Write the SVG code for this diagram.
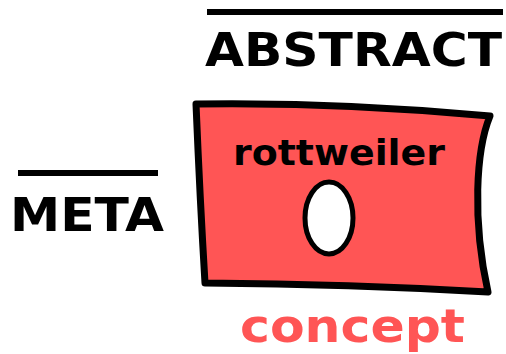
<svg xmlns="http://www.w3.org/2000/svg" width="506" height="354" viewBox="0 0 506 354">
<style>
.lbl{font-family:"DejaVu Sans","Liberation Sans",sans-serif;font-weight:bold;fill:#000}
.bar{fill:#000}
</style>
<rect width="506" height="354" fill="#fff"/>
<g id="abstract">
<rect class="bar" x="207" y="9" width="296" height="6"/>
<text class="lbl" x="205" y="66" font-size="47" textLength="297" lengthAdjust="spacingAndGlyphs">ABSTRACT</text>
</g>
<g id="meta">
<rect class="bar" x="18" y="170" width="140" height="6"/>
<text class="lbl" x="10" y="231" font-size="47" textLength="154" lengthAdjust="spacingAndGlyphs">META</text>
</g>
<g id="concept">
<path d="M196,104 Q340,102 490,116 C476,150 472,220 488,292 Q350,284 205,283 Q200,200 196,104 Z" fill="#ff5555" stroke="#000" stroke-width="7" stroke-linejoin="round"/>
<text class="lbl" x="233" y="165" font-size="36" textLength="212" lengthAdjust="spacingAndGlyphs">rottweiler</text>
<ellipse cx="329" cy="218" rx="24" ry="36" fill="#fff" stroke="#000" stroke-width="5"/>
<text x="240" y="342" font-size="46" textLength="225" lengthAdjust="spacingAndGlyphs" font-family="DejaVu Sans, sans-serif" font-weight="bold" fill="#ff5555">concept</text>
</g>
</svg>
